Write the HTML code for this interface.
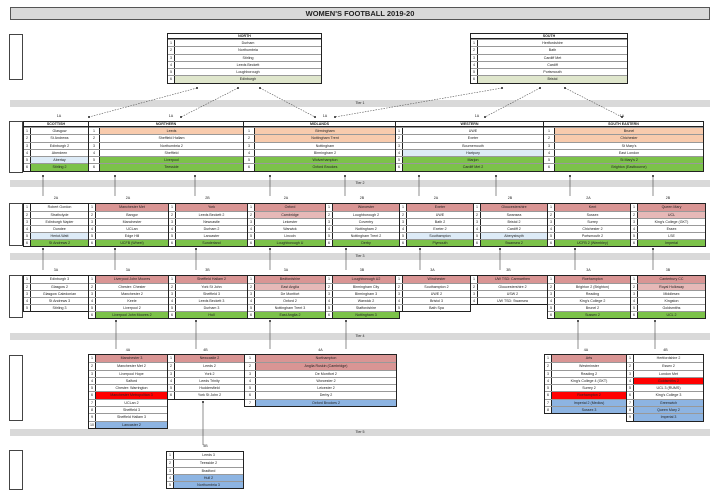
<!DOCTYPE html>
<html><head><meta charset="utf-8"><style>
*{margin:0;padding:0;box-sizing:border-box}
body{width:720px;height:496px;background:#fff;position:relative;overflow:hidden;font-family:"Liberation Sans",sans-serif;color:#222}
.t{position:absolute;border:1px solid #222;background:#fff}
.r{display:flex;border-top:1px solid #999;font-size:3.6px;overflow:hidden}
.r:first-child{border-top:none}
.n{width:7px;border-right:1px solid #222;text-align:center;flex:none}
.c{flex:1;text-align:center;white-space:nowrap;overflow:hidden}
.h{text-align:center;font-size:3.6px;font-weight:bold;border-bottom:1px solid #222}
.t1 .r{height:7.3px;line-height:6.3px}
.t2 .r{height:7px;line-height:6px}
.t4 .r{height:7.3px;line-height:6.3px}
.p .c,.c.p{background:#f8cbad}.c.g{background:#7cc24a}.c.lg{background:#dfe6cc}.c.lb{background:#ddebf7}
.c.k{background:#d99594}.c.lk{background:#e6b8b7}.c.rd{background:#ff0000}.c.b{background:#8db4e2}
.bar{position:absolute;left:10px;width:700px;height:7px;background:#d9d9d9;font-size:3.6px;text-align:center;line-height:7px}
.lab{position:absolute;font-size:3.6px;text-align:center}
.leg{position:absolute;border:1px solid #444;background:#fff}
</style></head><body>
<div style="position:absolute;left:10px;top:7px;width:700px;height:13px;background:#d9d9d9;border:1px solid #555;text-align:center;font-weight:bold;font-size:7.5px;line-height:11px">WOMEN'S FOOTBALL 2019-20</div>

<div class="leg" style="left:9px;top:34px;width:14px;height:46px"></div>
<div class="leg" style="left:9px;top:121px;width:14px;height:52px"></div>
<div class="leg" style="left:9px;top:203px;width:14px;height:43px"></div>
<div class="leg" style="left:9px;top:275px;width:14px;height:43px"></div>
<div class="leg" style="left:9px;top:355px;width:14px;height:66px"></div>
<div class="leg" style="left:9px;top:450px;width:14px;height:40px"></div>

<div class="t t1" style="left:167px;top:33px;width:155px"><div class="h">NORTH</div>
<div class="r"><span class="n">1</span><span class="c">Durham</span></div>
<div class="r"><span class="n">2</span><span class="c">Northumbria</span></div>
<div class="r"><span class="n">3</span><span class="c">Stirling</span></div>
<div class="r"><span class="n">4</span><span class="c">Leeds Beckett</span></div>
<div class="r"><span class="n">5</span><span class="c">Loughborough</span></div>
<div class="r"><span class="n">6</span><span class="c lg">Edinburgh</span></div></div>
<div class="t t1" style="left:470px;top:33px;width:158px"><div class="h">SOUTH</div>
<div class="r"><span class="n">1</span><span class="c">Hertfordshire</span></div>
<div class="r"><span class="n">2</span><span class="c">Bath</span></div>
<div class="r"><span class="n">3</span><span class="c">Cardiff Met</span></div>
<div class="r"><span class="n">4</span><span class="c">Cardiff</span></div>
<div class="r"><span class="n">5</span><span class="c">Portsmouth</span></div>
<div class="r"><span class="n">6</span><span class="c lg">Bristol</span></div></div>

<div class="bar" style="top:100px">Tier 1</div>
<div class="lab" style="left:49px;top:114px;width:20px">1A</div>
<div class="lab" style="left:161px;top:114px;width:20px">1A</div>
<div class="lab" style="left:315px;top:114px;width:20px">1A</div>
<div class="lab" style="left:467px;top:114px;width:20px">1A</div>
<div class="lab" style="left:612px;top:114px;width:20px">1A</div>

<div class="t t1" style="left:23px;top:121px;width:66px"><div class="h">SCOTTISH</div>
<div class="r"><span class="n">1</span><span class="c">Glasgow</span></div>
<div class="r"><span class="n">2</span><span class="c">St Andrews</span></div>
<div class="r"><span class="n">3</span><span class="c">Edinburgh 2</span></div>
<div class="r"><span class="n">4</span><span class="c">Aberdeen</span></div>
<div class="r"><span class="n">5</span><span class="c lb">Abertay</span></div>
<div class="r"><span class="n">6</span><span class="c g">Stirling 2</span></div></div>
<div class="t t1" style="left:88px;top:121px;width:156px"><div class="h">NORTHERN</div>
<div class="r"><span class="n" style="width:11px">1</span><span class="c p">Leeds</span></div>
<div class="r"><span class="n" style="width:11px">2</span><span class="c">Sheffield Hallam</span></div>
<div class="r"><span class="n" style="width:11px">3</span><span class="c">Northumbria 2</span></div>
<div class="r"><span class="n" style="width:11px">4</span><span class="c">Sheffield</span></div>
<div class="r"><span class="n" style="width:11px">5</span><span class="c g">Liverpool</span></div>
<div class="r"><span class="n" style="width:11px">6</span><span class="c g">Teesside</span></div></div>
<div class="t t1" style="left:243px;top:121px;width:153px"><div class="h">MIDLANDS</div>
<div class="r"><span class="n" style="width:11px">1</span><span class="c p">Birmingham</span></div>
<div class="r"><span class="n" style="width:11px">2</span><span class="c p">Nottingham Trent</span></div>
<div class="r"><span class="n" style="width:11px">3</span><span class="c">Nottingham</span></div>
<div class="r"><span class="n" style="width:11px">4</span><span class="c">Birmingham 2</span></div>
<div class="r"><span class="n" style="width:11px">5</span><span class="c g">Wolverhampton</span></div>
<div class="r"><span class="n" style="width:11px">6</span><span class="c g">Oxford Brookes</span></div></div>
<div class="t t1" style="left:395px;top:121px;width:149px"><div class="h">WESTERN</div>
<div class="r"><span class="n">1</span><span class="c">UWE</span></div>
<div class="r"><span class="n">2</span><span class="c">Exeter</span></div>
<div class="r"><span class="n">3</span><span class="c">Bournemouth</span></div>
<div class="r"><span class="n">4</span><span class="c lb">Hartpury</span></div>
<div class="r"><span class="n">5</span><span class="c g">Marjon</span></div>
<div class="r"><span class="n">6</span><span class="c g">Cardiff Met 2</span></div></div>
<div class="t t1" style="left:543px;top:121px;width:161px"><div class="h">SOUTH EASTERN</div>
<div class="r"><span class="n" style="width:11px">1</span><span class="c p">Brunel</span></div>
<div class="r"><span class="n" style="width:11px">2</span><span class="c p">Chichester</span></div>
<div class="r"><span class="n" style="width:11px">3</span><span class="c">St Mary's</span></div>
<div class="r"><span class="n" style="width:11px">4</span><span class="c">East London</span></div>
<div class="r"><span class="n" style="width:11px">5</span><span class="c g">St Mary's 2</span></div>
<div class="r"><span class="n" style="width:11px">6</span><span class="c g">Brighton (Eastbourne)</span></div></div>

<div class="bar" style="top:180px">Tier 2</div>
<div class="lab" style="left:24px;top:196px;width:64px">2A</div>
<div class="lab" style="left:88px;top:196px;width:80px">2A</div>
<div class="lab" style="left:168px;top:196px;width:79px">2B</div>
<div class="lab" style="left:247px;top:196px;width:78px">2A</div>
<div class="lab" style="left:325px;top:196px;width:74px">2B</div>
<div class="lab" style="left:399px;top:196px;width:74px">2A</div>
<div class="lab" style="left:473px;top:196px;width:74px">2B</div>
<div class="lab" style="left:547px;top:196px;width:83px">2A</div>
<div class="lab" style="left:630px;top:196px;width:76px">2B</div>

<div class="t t2" style="left:23px;top:203px;width:66px">
<div class="r"><span class="n">1</span><span class="c">Robert Gordon</span></div>
<div class="r"><span class="n">2</span><span class="c">Strathclyde</span></div>
<div class="r"><span class="n">3</span><span class="c">Edinburgh Napier</span></div>
<div class="r"><span class="n">4</span><span class="c">Dundee</span></div>
<div class="r"><span class="n">5</span><span class="c lb">Heriot-Watt</span></div>
<div class="r"><span class="n">6</span><span class="c g">St Andrews 2</span></div></div>
<div class="t t2" style="left:88px;top:203px;width:81px">
<div class="r"><span class="n">1</span><span class="c k">Manchester Met</span></div>
<div class="r"><span class="n">2</span><span class="c">Bangor</span></div>
<div class="r"><span class="n">3</span><span class="c">Manchester</span></div>
<div class="r"><span class="n">4</span><span class="c">UCLan</span></div>
<div class="r"><span class="n">5</span><span class="c">Edge Hill</span></div>
<div class="r"><span class="n">6</span><span class="c g">UCFB (Wheel)</span></div></div>
<div class="t t2" style="left:168px;top:203px;width:80px">
<div class="r"><span class="n">1</span><span class="c k">York</span></div>
<div class="r"><span class="n">2</span><span class="c">Leeds Beckett 2</span></div>
<div class="r"><span class="n">3</span><span class="c">Newcastle</span></div>
<div class="r"><span class="n">4</span><span class="c">Durham 2</span></div>
<div class="r"><span class="n">5</span><span class="c">Lancaster</span></div>
<div class="r"><span class="n">6</span><span class="c g">Sunderland</span></div></div>
<div class="t t2" style="left:247px;top:203px;width:79px">
<div class="r"><span class="n">1</span><span class="c k">Oxford</span></div>
<div class="r"><span class="n">2</span><span class="c lk">Cambridge</span></div>
<div class="r"><span class="n">3</span><span class="c">Leicester</span></div>
<div class="r"><span class="n">4</span><span class="c">Warwick</span></div>
<div class="r"><span class="n">5</span><span class="c">Lincoln</span></div>
<div class="r"><span class="n">6</span><span class="c g">Loughborough U</span></div></div>
<div class="t t2" style="left:325px;top:203px;width:75px">
<div class="r"><span class="n">1</span><span class="c k">Worcester</span></div>
<div class="r"><span class="n">2</span><span class="c">Loughborough 2</span></div>
<div class="r"><span class="n">3</span><span class="c">Coventry</span></div>
<div class="r"><span class="n">4</span><span class="c">Nottingham 2</span></div>
<div class="r"><span class="n">5</span><span class="c">Nottingham Trent 2</span></div>
<div class="r"><span class="n">6</span><span class="c g">Derby</span></div></div>
<div class="t t2" style="left:399px;top:203px;width:75px">
<div class="r"><span class="n">1</span><span class="c k">Exeter</span></div>
<div class="r"><span class="n">2</span><span class="c">UWE</span></div>
<div class="r"><span class="n">3</span><span class="c">Bath 2</span></div>
<div class="r"><span class="n">4</span><span class="c">Exeter 2</span></div>
<div class="r"><span class="n">5</span><span class="c lb">Southampton</span></div>
<div class="r"><span class="n">6</span><span class="c g">Plymouth</span></div></div>
<div class="t t2" style="left:473px;top:203px;width:75px">
<div class="r"><span class="n">1</span><span class="c k">Gloucestershire</span></div>
<div class="r"><span class="n">2</span><span class="c">Swansea</span></div>
<div class="r"><span class="n">3</span><span class="c">Bristol 2</span></div>
<div class="r"><span class="n">4</span><span class="c">Cardiff 2</span></div>
<div class="r"><span class="n">5</span><span class="c lb">Aberystwyth</span></div>
<div class="r"><span class="n">6</span><span class="c g">Swansea 2</span></div></div>
<div class="t t2" style="left:547px;top:203px;width:84px">
<div class="r"><span class="n">1</span><span class="c k">Kent</span></div>
<div class="r"><span class="n">2</span><span class="c">Sussex</span></div>
<div class="r"><span class="n">3</span><span class="c">Surrey</span></div>
<div class="r"><span class="n">4</span><span class="c">Chichester 2</span></div>
<div class="r"><span class="n">5</span><span class="c">Portsmouth 2</span></div>
<div class="r"><span class="n">6</span><span class="c g">UCFB 2 (Wembley)</span></div></div>
<div class="t t2" style="left:630px;top:203px;width:76px">
<div class="r"><span class="n">1</span><span class="c k">Queen Mary</span></div>
<div class="r"><span class="n">2</span><span class="c lk">UCL</span></div>
<div class="r"><span class="n">3</span><span class="c">King's College (GKT)</span></div>
<div class="r"><span class="n">4</span><span class="c">Essex</span></div>
<div class="r"><span class="n">5</span><span class="c">LSE</span></div>
<div class="r"><span class="n">6</span><span class="c g">Imperial</span></div></div>

<div class="bar" style="top:253px">Tier 3</div>
<div class="lab" style="left:24px;top:268px;width:64px">3A</div>
<div class="lab" style="left:88px;top:268px;width:80px">3A</div>
<div class="lab" style="left:168px;top:268px;width:79px">3B</div>
<div class="lab" style="left:247px;top:268px;width:78px">3A</div>
<div class="lab" style="left:325px;top:268px;width:74px">3B</div>
<div class="lab" style="left:395px;top:268px;width:75px">3A</div>
<div class="lab" style="left:470px;top:268px;width:77px">3B</div>
<div class="lab" style="left:547px;top:268px;width:83px">3A</div>
<div class="lab" style="left:630px;top:268px;width:76px">3B</div>

<div class="t t2" style="left:23px;top:275px;width:66px">
<div class="r"><span class="n">1</span><span class="c">Edinburgh 3</span></div>
<div class="r"><span class="n">2</span><span class="c">Glasgow 2</span></div>
<div class="r"><span class="n">3</span><span class="c">Glasgow Caledonian</span></div>
<div class="r"><span class="n">4</span><span class="c">St Andrews 3</span></div>
<div class="r"><span class="n">5</span><span class="c">Stirling 3</span></div></div>
<div class="t t2" style="left:88px;top:275px;width:81px">
<div class="r"><span class="n">1</span><span class="c k">Liverpool John Moores</span></div>
<div class="r"><span class="n">2</span><span class="c">Chester: Chester</span></div>
<div class="r"><span class="n">3</span><span class="c">Manchester 2</span></div>
<div class="r"><span class="n">4</span><span class="c">Keele</span></div>
<div class="r"><span class="n">5</span><span class="c">Liverpool 2</span></div>
<div class="r"><span class="n">6</span><span class="c g">Liverpool John Moores 2</span></div></div>
<div class="t t2" style="left:168px;top:275px;width:80px">
<div class="r"><span class="n">1</span><span class="c k">Sheffield Hallam 2</span></div>
<div class="r"><span class="n">2</span><span class="c">York St John</span></div>
<div class="r"><span class="n">3</span><span class="c">Sheffield 3</span></div>
<div class="r"><span class="n">4</span><span class="c">Leeds Beckett 3</span></div>
<div class="r"><span class="n">5</span><span class="c">Durham 3</span></div>
<div class="r"><span class="n">6</span><span class="c g">Hull</span></div></div>
<div class="t t2" style="left:247px;top:275px;width:79px">
<div class="r"><span class="n">1</span><span class="c k">Bedfordshire</span></div>
<div class="r"><span class="n">2</span><span class="c lk">East Anglia</span></div>
<div class="r"><span class="n">3</span><span class="c">De Montfort</span></div>
<div class="r"><span class="n">4</span><span class="c">Oxford 2</span></div>
<div class="r"><span class="n">5</span><span class="c">Nottingham Trent 3</span></div>
<div class="r"><span class="n">6</span><span class="c g">East Anglia 2</span></div></div>
<div class="t t2" style="left:325px;top:275px;width:75px">
<div class="r"><span class="n">1</span><span class="c k">Loughborough U2</span></div>
<div class="r"><span class="n">2</span><span class="c">Birmingham City</span></div>
<div class="r"><span class="n">3</span><span class="c">Birmingham 3</span></div>
<div class="r"><span class="n">4</span><span class="c">Warwick 2</span></div>
<div class="r"><span class="n">5</span><span class="c">Staffordshire</span></div>
<div class="r"><span class="n">6</span><span class="c g">Nottingham 3</span></div></div>
<div class="t t2" style="left:395px;top:275px;width:76px">
<div class="r"><span class="n">1</span><span class="c k">Winchester</span></div>
<div class="r"><span class="n">2</span><span class="c">Southampton 2</span></div>
<div class="r"><span class="n">3</span><span class="c">UWE 2</span></div>
<div class="r"><span class="n">4</span><span class="c">Bristol 3</span></div>
<div class="r"><span class="n">5</span><span class="c">Bath Spa</span></div></div>
<div class="t t2" style="left:470px;top:275px;width:78px">
<div class="r"><span class="n">1</span><span class="c k">UW TSD: Carmarthen</span></div>
<div class="r"><span class="n">2</span><span class="c">Gloucestershire 2</span></div>
<div class="r"><span class="n">3</span><span class="c">USW 2</span></div>
<div class="r"><span class="n">4</span><span class="c">UW TSD: Swansea</span></div></div>
<div class="t t2" style="left:547px;top:275px;width:84px">
<div class="r"><span class="n">1</span><span class="c k">Roehampton</span></div>
<div class="r"><span class="n">2</span><span class="c">Brighton 2 (Brighton)</span></div>
<div class="r"><span class="n">3</span><span class="c">Reading</span></div>
<div class="r"><span class="n">4</span><span class="c">King's College 2</span></div>
<div class="r"><span class="n">5</span><span class="c">Brunel 2</span></div>
<div class="r"><span class="n">6</span><span class="c g">Sussex 2</span></div></div>
<div class="t t2" style="left:630px;top:275px;width:76px">
<div class="r"><span class="n">1</span><span class="c k">Canterbury CC</span></div>
<div class="r"><span class="n">2</span><span class="c lk">Royal Holloway</span></div>
<div class="r"><span class="n">3</span><span class="c">Middlesex</span></div>
<div class="r"><span class="n">4</span><span class="c">Kingston</span></div>
<div class="r"><span class="n">5</span><span class="c">Goldsmiths</span></div>
<div class="r"><span class="n">6</span><span class="c g">UCL 2</span></div></div>

<div class="bar" style="top:333px">Tier 4</div>
<div class="lab" style="left:88px;top:348px;width:80px">4A</div>
<div class="lab" style="left:167px;top:348px;width:77px">4B</div>
<div class="lab" style="left:244px;top:348px;width:153px">4A</div>
<div class="lab" style="left:545px;top:348px;width:82px">4A</div>
<div class="lab" style="left:627px;top:348px;width:77px">4B</div>

<div class="t t4" style="left:88px;top:354px;width:80px">
<div class="r"><span class="n">1</span><span class="c k">Manchester 3</span></div>
<div class="r"><span class="n">2</span><span class="c">Manchester Met 2</span></div>
<div class="r"><span class="n">3</span><span class="c">Liverpool Hope</span></div>
<div class="r"><span class="n">4</span><span class="c">Salford</span></div>
<div class="r"><span class="n">5</span><span class="c">Chester: Warrington</span></div>
<div class="r"><span class="n">6</span><span class="c rd">Manchester Metropolitan 3</span></div>
<div class="r"><span class="n">7</span><span class="c">UCLan 2</span></div>
<div class="r"><span class="n">8</span><span class="c">Sheffield 3</span></div>
<div class="r"><span class="n">9</span><span class="c">Sheffield Hallam 3</span></div>
<div class="r"><span class="n">10</span><span class="c b">Lancaster 2</span></div></div>
<div class="t t4" style="left:167px;top:354px;width:78px">
<div class="r"><span class="n">1</span><span class="c k">Newcastle 2</span></div>
<div class="r"><span class="n">2</span><span class="c">Leeds 2</span></div>
<div class="r"><span class="n">3</span><span class="c">York 2</span></div>
<div class="r"><span class="n">4</span><span class="c">Leeds Trinity</span></div>
<div class="r"><span class="n">5</span><span class="c">Huddersfield</span></div>
<div class="r"><span class="n">6</span><span class="c">York St John 2</span></div></div>
<div class="t t4" style="left:244px;top:354px;width:153px">
<div class="r"><span class="n" style="width:11px">1</span><span class="c k">Northampton</span></div>
<div class="r"><span class="n" style="width:11px">2</span><span class="c k">Anglia Ruskin (Cambridge)</span></div>
<div class="r"><span class="n" style="width:11px">3</span><span class="c">De Montfort 2</span></div>
<div class="r"><span class="n" style="width:11px">4</span><span class="c">Worcester 2</span></div>
<div class="r"><span class="n" style="width:11px">5</span><span class="c">Leicester 2</span></div>
<div class="r"><span class="n" style="width:11px">6</span><span class="c">Derby 2</span></div>
<div class="r"><span class="n" style="width:11px">7</span><span class="c b">Oxford Brookes 2</span></div></div>
<div class="t t4" style="left:544px;top:354px;width:83px">
<div class="r"><span class="n">1</span><span class="c k">Arts</span></div>
<div class="r"><span class="n">2</span><span class="c">Westminster</span></div>
<div class="r"><span class="n">3</span><span class="c">Reading 2</span></div>
<div class="r"><span class="n">4</span><span class="c">King's College 4 (GKT)</span></div>
<div class="r"><span class="n">5</span><span class="c">Surrey 2</span></div>
<div class="r"><span class="n">6</span><span class="c rd">Roehampton 2</span></div>
<div class="r"><span class="n">7</span><span class="c b">Imperial 2 (Medics)</span></div>
<div class="r"><span class="n">8</span><span class="c b">Sussex 3</span></div></div>
<div class="t t4" style="left:626px;top:354px;width:78px">
<div class="r"><span class="n">1</span><span class="c">Hertfordshire 2</span></div>
<div class="r"><span class="n">2</span><span class="c">Essex 2</span></div>
<div class="r"><span class="n">3</span><span class="c">London Met</span></div>
<div class="r"><span class="n">4</span><span class="c rd">Goldsmiths 2</span></div>
<div class="r"><span class="n">5</span><span class="c">UCL 3 (RUMS)</span></div>
<div class="r"><span class="n">6</span><span class="c">King's College 3</span></div>
<div class="r"><span class="n">7</span><span class="c b">Greenwich</span></div>
<div class="r"><span class="n">8</span><span class="c b">Queen Mary 2</span></div>
<div class="r"><span class="n">9</span><span class="c b">Imperial 3</span></div></div>

<div class="bar" style="top:429px">Tier 5</div>
<div class="lab" style="left:167px;top:444px;width:77px">5B</div>
<div class="t t4" style="left:166px;top:451px;width:78px">
<div class="r"><span class="n">1</span><span class="c">Leeds 3</span></div>
<div class="r"><span class="n">2</span><span class="c">Teesside 2</span></div>
<div class="r"><span class="n">3</span><span class="c">Bradford</span></div>
<div class="r"><span class="n">4</span><span class="c b">Hull 2</span></div>
<div class="r"><span class="n">5</span><span class="c b">Northumbria 3</span></div></div>

<svg style="position:absolute;left:0;top:0" width="720" height="496">
<g stroke="#555" stroke-width="0.6" stroke-dasharray="1.5,1.2" fill="none">
<line x1="197" y1="88" x2="89" y2="117"/>
<line x1="238" y1="88" x2="181" y2="117"/>
<line x1="260" y1="88" x2="315" y2="117"/>
<line x1="502" y1="88" x2="335" y2="117"/>
<line x1="540" y1="88" x2="485" y2="117"/>
<line x1="565" y1="88" x2="622" y2="117"/>
</g>
<g fill="#222">
<circle cx="197" cy="88" r="1"/><circle cx="89" cy="117" r="1"/>
<circle cx="238" cy="88" r="1"/><circle cx="181" cy="117" r="1"/>
<circle cx="260" cy="88" r="1"/><circle cx="315" cy="117" r="1"/>
<circle cx="502" cy="88" r="1"/><circle cx="335" cy="117" r="1"/>
<circle cx="540" cy="88" r="1"/><circle cx="485" cy="117" r="1"/>
<circle cx="565" cy="88" r="1"/><circle cx="622" cy="117" r="1"/>
</g>
<g stroke="#444" stroke-width="0.6">
<line x1="43" y1="175" x2="43" y2="196"/><line x1="115" y1="175" x2="115" y2="196"/>
<line x1="195" y1="175" x2="195" y2="196"/><line x1="270" y1="175" x2="270" y2="196"/>
<line x1="345" y1="175" x2="345" y2="196"/><line x1="419" y1="175" x2="419" y2="196"/>
<line x1="496" y1="175" x2="496" y2="196"/><line x1="570" y1="175" x2="570" y2="196"/>
<line x1="653" y1="175" x2="653" y2="196"/>
<line x1="43" y1="248" x2="43" y2="270"/><line x1="115" y1="248" x2="115" y2="270"/>
<line x1="196" y1="248" x2="196" y2="270"/><line x1="270" y1="248" x2="270" y2="270"/>
<line x1="346" y1="248" x2="346" y2="270"/><line x1="420" y1="248" x2="420" y2="270"/>
<line x1="500" y1="248" x2="500" y2="270"/><line x1="575" y1="248" x2="575" y2="270"/>
<line x1="653" y1="248" x2="653" y2="270"/>
<line x1="116" y1="320" x2="116" y2="349"/><line x1="196" y1="320" x2="196" y2="349"/>
<line x1="270" y1="320" x2="270" y2="349"/><line x1="346" y1="320" x2="346" y2="349"/>
<line x1="578" y1="320" x2="578" y2="349"/><line x1="655" y1="320" x2="655" y2="349"/>
<line x1="203" y1="401" x2="203" y2="445"/>
</g>
<g fill="#222">
<circle cx="43" cy="176" r="1"/><circle cx="115" cy="176" r="1"/><circle cx="195" cy="176" r="1"/>
<circle cx="270" cy="176" r="1"/><circle cx="345" cy="176" r="1"/><circle cx="419" cy="176" r="1"/>
<circle cx="496" cy="176" r="1"/><circle cx="570" cy="176" r="1"/><circle cx="653" cy="176" r="1"/>
<circle cx="43" cy="249" r="1"/><circle cx="115" cy="249" r="1"/><circle cx="196" cy="249" r="1"/>
<circle cx="270" cy="249" r="1"/><circle cx="346" cy="249" r="1"/><circle cx="420" cy="249" r="1"/>
<circle cx="500" cy="249" r="1"/><circle cx="575" cy="249" r="1"/><circle cx="653" cy="249" r="1"/>
<circle cx="116" cy="321" r="1"/><circle cx="196" cy="321" r="1"/><circle cx="270" cy="321" r="1"/>
<circle cx="346" cy="321" r="1"/><circle cx="578" cy="321" r="1"/><circle cx="655" cy="321" r="1"/>
<circle cx="203" cy="402" r="1"/>
</g>
</svg>
</body></html>
